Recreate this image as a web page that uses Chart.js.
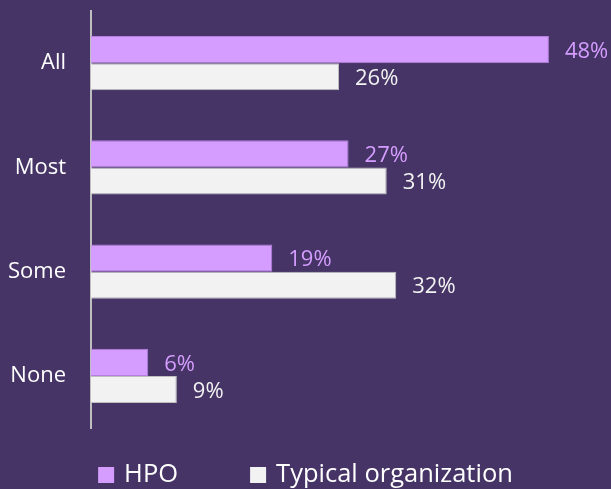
<!DOCTYPE html>
<html><head><meta charset="utf-8">
<script src="https://cdn.jsdelivr.net/npm/chart.js@4"></script>
<style>html,body{margin:0;padding:0;background:#453465;}#wrap{width:611px;height:489px;}</style>
</head><body><div id="wrap"><canvas id="c" width="611" height="489"></canvas></div>
<script>
const categories = ["All", "Most", "Some", "None"];
const hpoValues = [48, 27, 19, 6];
const typicalValues = [26, 31, 32, 9];
const seriesNames = ["HPO", "Typical organization"];

const FONT = "'Segoe UI', 'Open Sans', sans-serif";
const labelPlugin = {
  id: 'barLabels',
  afterDatasetsDraw(chart) {
    const ctx = chart.ctx;
    ctx.save();
    ctx.font = "22px " + FONT;
    ctx.textBaseline = 'middle';
    ctx.textAlign = 'left';
    chart.data.datasets.forEach((ds, i) => {
      const meta = chart.getDatasetMeta(i);
      ctx.fillStyle = ds.labelColor;
      meta.data.forEach((el, j) => {
        ctx.fillText(ds.data[j] + '%', el.x + 16, el.y + 2);
      });
    });
    ctx.restore();
  }
};

const legendPlugin = {
  id: 'customLegend',
  afterDraw(chart) {
    const ctx = chart.ctx;
    ctx.save();
    ctx.font = "25.5px " + FONT;
    ctx.textBaseline = 'alphabetic';
    ctx.textAlign = 'left';
    const box = 16, gapText = 10, gapItem = 72;
    const items = chart.data.datasets.map(ds => ({ text: ds.label, color: ds.backgroundColor, w: ctx.measureText(ds.label).width }));
    let total = 0;
    items.forEach((it, i) => { total += box + gapText + it.w + (i < items.length - 1 ? gapItem : 0); });
    let x = (chart.width - total) / 2;
    const baseY = 482;
    items.forEach(it => {
      ctx.fillStyle = it.color;
      ctx.fillRect(x, baseY - 15, box, box);
      ctx.fillStyle = '#FFFFFF';
      ctx.fillText(it.text, x + box + gapText, baseY);
      x += box + gapText + it.w + gapItem;
    });
    ctx.restore();
  }
};

new Chart(document.getElementById('c'), {
  type: 'bar',
  data: {
    labels: categories,
    datasets: [
      { label: seriesNames[0], data: hpoValues, backgroundColor: '#D59DFF', borderColor: '#B57FE0', borderWidth: 1, borderSkipped: 'left', labelColor: '#D59DFF', categoryPercentage: 0.52, barPercentage: 1 },
      { label: seriesNames[1], data: typicalValues, backgroundColor: '#F2F2F2', borderColor: '#BFBFBF', borderWidth: 1, borderSkipped: 'left', labelColor: '#F2F2F2', categoryPercentage: 0.52, barPercentage: 1 }
    ]
  },
  options: {
    indexAxis: 'y',
    responsive: false,
    animation: false,
    devicePixelRatio: 1,
    layout: { autoPadding: false, padding: { top: 11, right: 43, left: 0, bottom: 61 } },
    scales: {
      x: { display: false, min: 0, max: 50 },
      y: {
        afterFit(scale) { scale.width = 91; scale.paddingTop = 0; scale.paddingBottom = 0; },
        grid: { display: false, drawTicks: false },
        border: { display: true, color: '#BFBFBF', width: 2 },
        ticks: { color: '#FFFFFF', font: { size: 22, family: FONT }, padding: 25 }
      }
    },
    plugins: {
      tooltip: { enabled: false },
      legend: { display: false }
    }
  },
  plugins: [labelPlugin, legendPlugin]
});
</script></body></html>
